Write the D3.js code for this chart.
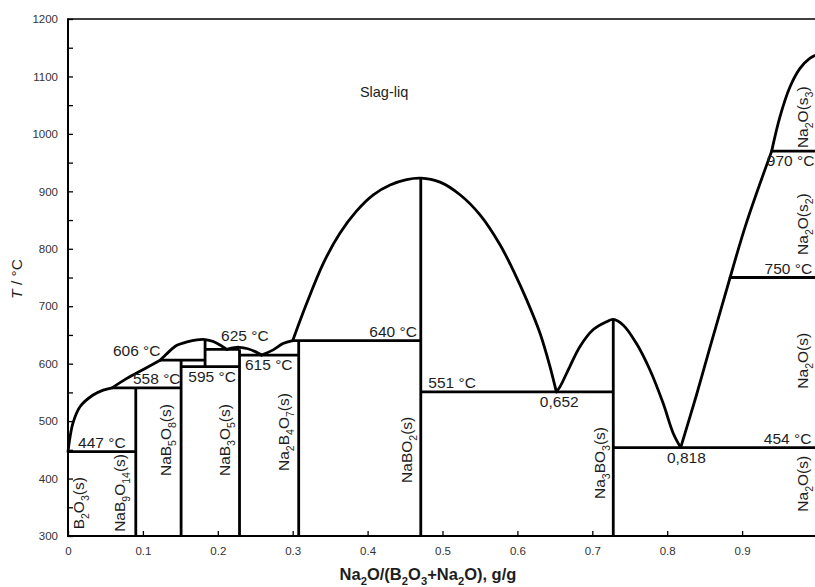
<!DOCTYPE html>
<html><head><meta charset="utf-8">
<script src="https://cdn.jsdelivr.net/npm/d3@7"></script>
<style>
body{margin:0;background:#fff}
svg{display:block}
text{font-family:"Liberation Sans",Arial,Helvetica,sans-serif}
</style>
</head><body>
<svg id="chart" width="815" height="587"></svg>
<script>
// ---------- data ----------
const xTickValues = [0,0.1,0.2,0.3,0.4,0.5,0.6,0.7,0.8,0.9];
const xTickLabels = ["0","0.1","0.2","0.3","0.4","0.5","0.6","0.7","0.8","0.9"];
const yTickValues = [300,400,500,600,700,800,900,1000,1100,1200];
const yMinorTicks = [350,450,550,650,750,850,950,1050,1150];

// liquidus segments [composition, T °C]
const liqB2O3    = [[0,447],[0.0027,472],[0.0067,497],[0.016,525],[0.033,545],[0.047,554],[0.059,558]];
const liqNaB9O14 = [[0.059,558],[0.078,574],[0.1005,590],[0.123,606]];
const liqNa2B8O13= [[0.123,606],[0.127,611],[0.140,627],[0.1455,632],[0.159,638],[0.172,641.5],[0.183,642],[0.194,638.5],[0.206,630],[0.212,625]];
const liqNaB3O5  = [[0.212,625],[0.222,628],[0.229,628.5],[0.240,626],[0.250,621],[0.2586,615]];
const liqNa2B4O7 = [[0.2586,615],[0.274,624],[0.287,635],[0.300,640]];
const liqNaBO2   = [[0.300,640],[0.3187,705],[0.341,775],[0.363,827],[0.3854,866],[0.4076,894],[0.430,911],[0.452,920.5],[0.471,923],[0.4967,916],[0.5234,894],[0.5501,859],[0.5768,807],[0.5968,756],[0.6124,711],[0.6302,653],[0.6435,595],[0.652,551]];
const liqNa3BO3  = [[0.652,551],[0.657,560],[0.670,595],[0.6836,630],[0.701,659],[0.719,673],[0.728,677],[0.7414,667],[0.759,635],[0.777,589],[0.7946,531],[0.808,479],[0.818,454]];
const liqNa2O_1  = [[0.818,454],[0.839,545],[0.857,628],[0.884,750]];
const liqNa2O_2  = [[0.884,750],[0.906,846],[0.9395,970]];
const liqNa2O_3  = [[0.9395,970],[0.9506,1030],[0.964,1082],[0.9773,1114],[0.9907,1132],[1.0,1138]];
const liquidus = [liqB2O3,liqNaB9O14,liqNa2B8O13,liqNaB3O5,liqNa2B4O7,liqNaBO2,liqNa3BO3,liqNa2O_1,liqNa2O_2,liqNa2O_3];

// invariant (horizontal) lines: T, from composition, to composition
const isoT  = [447,558,606,595,625,615,640,551,454,750,970];
const isoX0 = [0,0.059,0.123,0.151,0.183,0.229,0.300,0.471,0.728,0.884,0.9395];
const isoX1 = [0.0905,0.151,0.183,0.229,0.229,0.308,0.471,0.728,1.0,1.0,1.0];

// compound (vertical) lines: composition, from T, to T
const compX  = [0.0905,0.151,0.183,0.229,0.308,0.471,0.728];
const compT0 = [300,300,595,300,300,300,300];
const compT1 = [558,606,642,625,640,923,677];

// temperature / composition annotations: text, composition, T, side
const noteText = ["447 °C","558 °C","606 °C","595 °C","625 °C","615 °C","640 °C","551 °C","0,652","0,818","454 °C","750 °C","970 °C"];
const noteX    = [0.0134,0.0868,0.060,0.1606,0.2043,0.2363,0.4023,0.481,0.630,0.7997,0.929,0.930,0.933];
const noteT    = [447,558,606,595,625,615,640,551,551,454,454,750,970];
const noteSide = ["a","a","a","b","a2","b","a","a","b","b","a","a","b"];

// phase labels (rotated): text, composition, T
const phaseText = ["B_2O_3(s)","NaB_9O_{14}(s)","NaB_5O_8(s)","NaB_3O_5(s)","Na_2B_4O_7(s)","NaBO_2(s)","Na_3BO_3(s)","Na_2O(s_3)","Na_2O(s_2)","Na_2O(s)","Na_2O(s)"];
const phaseX    = [0.0214,0.0761,0.1375,0.2163,0.2951,0.4593,0.717,0.988,0.988,0.988,0.988];
const phaseT    = [357,375,467,467,481,450,427,1029,843,605,391];

// ---------- drawing ----------
const svg = d3.select("#chart");
const L = 68, R = 817, T = 19, B = 536;
const x = d3.scaleLinear().domain([0,1]).range([L,R]);
const y = d3.scaleLinear().domain([300,1200]).range([B,T]);
const ink = "#000", txt = "#1e1e1e";
const FS = 15.5;

function parse(s){
  const out=[]; const re=/_\{([^}]*)\}|_(\w)/g; let last=0,m;
  while((m=re.exec(s))){ if(m.index>last) out.push({t:s.slice(last,m.index),sub:false});
    out.push({t:m[1]||m[2],sub:true}); last=re.lastIndex; }
  if(last<s.length) out.push({t:s.slice(last),sub:false});
  return out;
}
function rich(textSel, s, size){
  let shift=0;
  parse(s).forEach(p=>{
    const ts=textSel.append("tspan").text(p.t);
    const target=p.sub? size*0.3:0;
    if(target!==shift){ ts.attr("dy", target-shift); shift=target; }
    if(p.sub) ts.attr("font-size", size*0.68);
  });
}

// axes
const yAxis = d3.axisLeft(y).tickValues(yTickValues).tickSize(-5).tickPadding(10).tickFormat(d=>String(d));
const gy = svg.append("g").attr("transform",`translate(${L},0)`).call(yAxis);
const gyMinor = svg.append("g").attr("transform",`translate(${L},0)`).call(d3.axisLeft(y).tickValues(yMinorTicks).tickSize(-5).tickFormat(""));
const xAxis = d3.axisBottom(x).tickValues(xTickValues).tickSize(-5).tickPadding(11).tickFormat((d,i)=>xTickLabels[i]);
const gx = svg.append("g").attr("transform",`translate(0,${B})`).call(xAxis);
[gy,gyMinor,gx].forEach(g=>{
  g.select(".domain").remove();
  g.selectAll(".tick line").attr("stroke",ink).attr("stroke-width",1.3);
  g.selectAll(".tick text").attr("fill","#333").attr("font-size",11.5).attr("font-family",'"Liberation Sans",Arial,sans-serif');
});

// frame
svg.append("line").attr("x1",L).attr("x2",R).attr("y1",T).attr("y2",T).attr("stroke",ink).attr("stroke-width",1.5);
svg.append("line").attr("x1",L).attr("x2",L).attr("y1",T-0.75).attr("y2",B+1).attr("stroke",ink).attr("stroke-width",2);
svg.append("line").attr("x1",L-1).attr("x2",R).attr("y1",B).attr("y2",B).attr("stroke",ink).attr("stroke-width",2);

// isotherms
const LW = 2.8;
isoT.forEach((t,i)=>{
  svg.append("line").attr("x1",x(isoX0[i])).attr("x2",x(isoX1[i]))
    .attr("y1",y(t)).attr("y2",y(t)).attr("stroke",ink).attr("stroke-width",LW);
});
// compound lines
compX.forEach((c,i)=>{
  svg.append("line").attr("x1",x(c)).attr("x2",x(c))
    .attr("y1",y(compT0[i])).attr("y2",y(compT1[i])).attr("stroke",ink).attr("stroke-width",LW);
});
// liquidus
const line = d3.line().x(d=>x(d[0])).y(d=>y(d[1])).curve(d3.curveCatmullRom.alpha(0.5));
liquidus.forEach(seg=>{
  svg.append("path").attr("d",line(seg)).attr("fill","none").attr("stroke",ink)
    .attr("stroke-width",LW).attr("stroke-linejoin","round").attr("stroke-linecap","round");
});

// annotations
noteText.forEach((s,i)=>{
  const off = noteSide[i]==="b" ? 15 : (noteSide[i]==="a2" ? -8 : -4);
  svg.append("text").attr("x",x(noteX[i])).attr("y",y(noteT[i])+off)
    .attr("font-size",FS).attr("fill",txt).text(s);
});

// phase labels
phaseText.forEach((s,i)=>{
  const t = svg.append("text").attr("transform",`translate(${x(phaseX[i])},${y(phaseT[i])}) rotate(-90)`)
    .attr("text-anchor","middle").attr("font-size",FS).attr("fill",txt);
  rich(t,s,FS);
});

// Slag-liq
svg.append("text").attr("x",x(0.422)).attr("y",y(1064)).attr("text-anchor","middle")
  .attr("font-size",FS-1).attr("fill",txt).text("Slag-liq");

// axis titles
const yt = svg.append("text").attr("transform","translate(22,279) rotate(-90)")
  .attr("text-anchor","middle").attr("font-size",FS).attr("fill",txt);
yt.append("tspan").attr("font-style","italic").text("T");
yt.append("tspan").text(" / °C");

const xt = svg.append("text").attr("x",428).attr("y",580).attr("text-anchor","middle")
  .attr("font-size",16.5).attr("font-weight","bold").attr("fill",txt);
rich(xt,"Na_2O/(B_2O_3+Na_2O), g/g",16.5);
</script>
</body></html>
